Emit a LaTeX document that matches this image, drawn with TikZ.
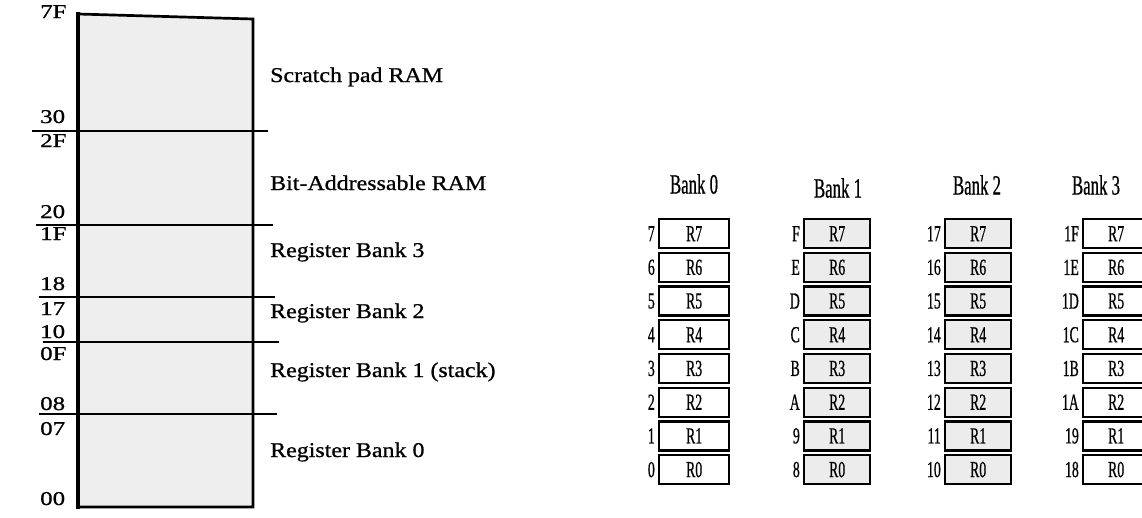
\documentclass[tikz,border=0pt]{standalone}
\usepackage{fontspec}
\setmainfont{Liberation Serif}
\newfontfamily\memfont{Liberation Serif}[FakeStretch=1.14,FakeBold=0.9]
\newfontfamily\addrfont{Liberation Serif}[FakeStretch=1.28,FakeBold=0.9]
\newfontfamily\bankfont{Liberation Serif}[FakeStretch=0.6,FakeBold=0.6]
\tikzset{
  memtext/.style={anchor=base west,inner sep=0pt,font=\memfont\fontsize{21}{23}\selectfont},
  addr/.style={anchor=base west,inner sep=0pt,font=\addrfont\fontsize{19.5}{21}\selectfont},
  reg/.style={draw,line width=2.3pt,minimum height=29pt,inner sep=0pt,anchor=north west,
    font=\bankfont\fontsize{23}{24}\selectfont},
  regaddr/.style={anchor=east,inner sep=0pt,font=\bankfont\fontsize{23}{24}\selectfont},
  banktitle/.style={inner sep=0pt,font=\bankfont\fontsize{28}{30}\selectfont}
}
\begin{document}
\begin{tikzpicture}[x=1pt,y=-1pt]
\useasboundingbox (0,0) rectangle (1142,517);
\clip (0,0) rectangle (1142,517);
% internal RAM map
\fill[gray!13] (78,14)--(253,19)--(253,507)--(78,507)--cycle;
\draw[line width=2.7pt] (78,14)--(253,19)--(253,507)--(78,507);
\draw[line width=4.5pt] (78,12)--(78,509);
\foreach \y/\xa/\xb in {131/32/268,225/36/273,297/39/275,342/43/279,414/39/277}
  \draw[line width=2.6pt] (\xa,\y)--(\xb,\y);
\foreach \a/\y in {7F/18,30/123,2F/147,20/218,1F/240,18/290,17/315,10/338,0F/360,08/410,07/435,00/505}
  \node[addr] (m\a) at (40,\y) {\a};
\node[memtext] (scratch) at (270,82) {Scratch pad RAM};
\node[memtext] (bitram) at (270,190) {Bit-Addressable RAM};
\node[memtext] (rb3) at (270,257) {Register Bank 3};
\node[memtext] (rb2) at (270,318) {Register Bank 2};
\node[memtext] (rb1) at (270,377) {Register Bank 1 (stack)};
\node[memtext] (rb0) at (270,457) {Register Bank 0};
% the four register banks
\foreach \b/\x/\w/\c/\tx/\ty/\addrs in {
  0/658/70/white/694/184/{7,6,5,4,3,2,1,0},
  1/803/66/gray!15/838/188/{F,E,D,C,B,A,9,8},
  2/944/66/gray!15/977/185/{17,16,15,14,13,12,11,10},
  3/1082/66/white/1096/185/{1F,1E,1D,1C,1B,1A,19,18}}{
  \node[banktitle] (bank\b) at (\tx,\ty) {Bank \b};
  \foreach \a [count=\r from 0] in \addrs {
    \pgfmathsetmacro{\regno}{int(7-\r)}
    \node[reg,fill=\c,minimum width=\w pt] (b\b-r\regno) at (\x,218+33.7*\r) {R\regno};
    \node[regaddr] (b\b-a\regno) at ([xshift=-3pt]b\b-r\regno.west) {\a};
  }
}
\end{tikzpicture}
\end{document}
